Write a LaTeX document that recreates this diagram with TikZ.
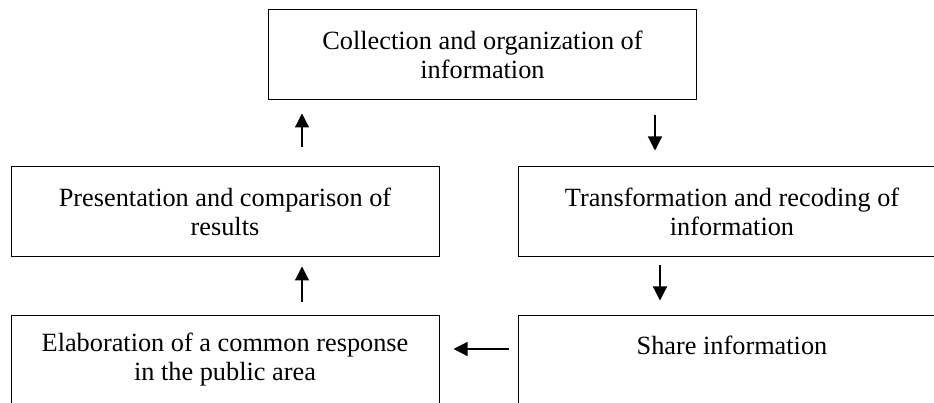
\documentclass[tikz,border=0pt]{standalone}
\usepackage{fontspec}
\setmainfont{Liberation Serif}
\usepackage{tikz}
\usetikzlibrary{positioning,calc,arrows.meta}

\begin{document}
\begin{tikzpicture}[x=1pt,y=-1pt,
box/.style={draw,line width=1pt,minimum width=428pt,minimum height=90pt,align=center,inner sep=0pt,font=\fontsize{26.3}{29}\selectfont},
edge/.style={line width=1.2pt,-{Triangle[length=14pt,width=14pt]}}]

\clip (0,0) rectangle (934,403);
\fill[white] (0,0) rectangle (934,403);

% nodes
\node[box] (collect) at (482.5,55) {Collection and organization of\\information};
\node[box] (pres) at (225,212) {Presentation and comparison of\\results};
\node[box,right=78pt of pres] (transf) {Transformation and recoding of\\information};
\node[box,below=57pt of pres] (elab) {Elaboration of a common response\\in the public area};
\node[box,right=78pt of elab] (share) {Share information\\\phantom{x}};

% edges
\draw[edge,shorten <=19pt,shorten >=13pt] ($(pres.north)+(77,0)$) -- ($(pres.north |- collect.south)+(77,0)$);
\draw[edge,shorten <=15pt,shorten >=16pt] ($(collect.south)+(172.5,0)$) -- ($(collect.south |- transf.north)+(172.5,0)$);
\draw[edge,shorten <=8pt,shorten >=14pt] ($(transf.south)+(-72,0)$) -- ($(transf.south |- share.north)+(-72,0)$);
\draw[edge,shorten <=13pt,shorten >=9pt] ($(elab.north)+(77,0)$) -- ($(elab.north |- pres.south)+(77,0)$);
\draw[edge,shorten <=9pt,shorten >=14pt] ($(share.west)+(0,-11)$) -- ($(elab.east)+(0,-11)$);
\end{tikzpicture}
\end{document}
